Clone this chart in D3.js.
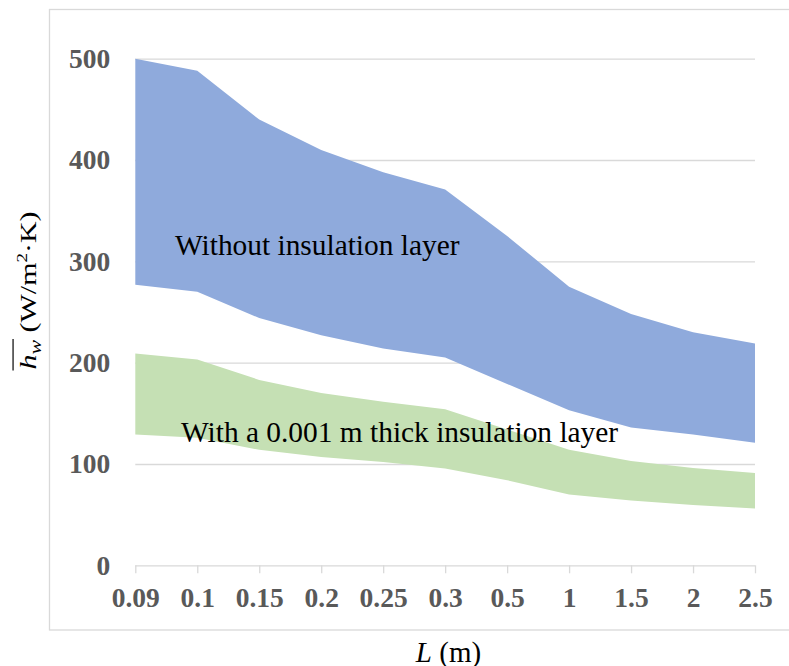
<!DOCTYPE html>
<html><head><meta charset="utf-8">
<script src="https://cdn.jsdelivr.net/npm/d3@7"></script>
<style>body{margin:0;background:#fff}svg{display:block}</style>
</head><body>
<svg id="c" width="789" height="666"></svg>
<script>
const categories = ["0.09","0.1","0.15","0.2","0.25","0.3","0.5","1","1.5","2","2.5"];
const blueUpper = [500, 488, 440, 410, 388, 371, 325, 275, 248, 230, 219];
const blueLower = [277, 270, 244, 227, 214, 205, 179, 153, 136, 129, 121];
const greenUpper = [209, 203, 183, 170, 161.5, 154, 134, 114, 103, 96, 91];
const greenLower = [129, 126, 114, 107, 102, 95.5, 84, 70, 64, 59.5, 56];
const yTicks = [0, 100, 200, 300, 400, 500];

const serif = "'Liberation Serif','Times New Roman',serif";
const svg = d3.select("#c");
const x = d3.scalePoint().domain(categories).range([135.3, 755]);
const y = d3.scaleLinear().domain([0, 500]).range([565.3, 58.7]);

// outer frame
svg.append("rect").attr("x", 49.5).attr("y", 9.5).attr("width", 760).attr("height", 620.5)
  .attr("fill", "none").attr("stroke", "#D9D9D9").attr("stroke-width", 1.3);

// gridlines
const gy = d3.axisLeft(y).tickValues(yTicks.filter(d => d > 0)).tickSize(-(755 - 135.3)).tickFormat("");
const gridG = svg.append("g").attr("transform", "translate(135.3,0)").call(gy);
gridG.select(".domain").remove();
gridG.selectAll("line").attr("stroke", "#D9D9D9").attr("stroke-width", 1.3);

function band(up, lo, color) {
  const data = categories.map((c, i) => ({c, u: up[i], l: lo[i]}));
  svg.append("path").datum(data)
    .attr("d", d3.area().x(d => x(d.c)).y0(d => y(d.l)).y1(d => y(d.u)))
    .attr("fill", color);
}
band(blueUpper, blueLower, "#8FAADC");
band(greenUpper, greenLower, "#C5E0B4");

// x axis
const xa = d3.axisBottom(x).tickSize(8).tickPadding(14);
const xg = svg.append("g").attr("transform", `translate(0,${y(0)})`).call(xa);
xg.select(".domain").attr("stroke", "#D9D9D9").attr("stroke-width", 1.3).attr("d", `M135.3,0.5H755`);
xg.selectAll(".tick line").attr("stroke", "#D9D9D9").attr("stroke-width", 1.3);
xg.selectAll(".tick text").attr("fill", "#595959").attr("font-family", serif)
  .attr("font-size", 27.5).attr("font-weight", "bold");

// y axis labels
const ya = d3.axisLeft(y).tickValues(yTicks).tickSize(0).tickPadding(25);
const yg = svg.append("g").attr("transform", "translate(135.3,0)").call(ya);
yg.select(".domain").remove();
yg.selectAll(".tick text").attr("fill", "#595959").attr("font-family", serif)
  .attr("font-size", 27.5).attr("font-weight", "bold");

// annotations
svg.append("text").attr("x", 175).attr("y", 255).attr("font-family", serif).attr("font-size", 29.4)
  .attr("fill", "#000").text("Without insulation layer");
svg.append("text").attr("x", 181).attr("y", 441.5).attr("font-family", serif).attr("font-size", 29.4)
  .attr("fill", "#000").text("With a 0.001 m thick insulation layer");

// y title
const ytf = "translate(36,290.5) rotate(-90) scale(1,0.74)";
const yt = svg.append("text").attr("transform", ytf).attr("text-anchor", "middle")
  .attr("font-family", serif).attr("font-size", 30).attr("fill", "#000");
yt.append("tspan").attr("font-style", "italic").text("h");
yt.append("tspan").attr("font-style", "italic").attr("font-size", 22).attr("dy", 7).text("w");
yt.append("tspan").attr("dy", -7).text(" (W/m");
yt.append("tspan").attr("font-size", 19).attr("dy", -12).text("2");
yt.append("tspan").attr("dy", 12).text("·K)");
{
  const tn = yt.node();
  const s = tn.getStartPositionOfChar(0), e = tn.getEndPositionOfChar(1);
  svg.append("line").attr("transform", ytf)
    .attr("x1", s.x - 1).attr("x2", e.x + 1).attr("y1", -31).attr("y2", -31)
    .attr("stroke", "#000").attr("stroke-width", 1.6);
}

// x title
const xt = svg.append("text").attr("x", 448.5).attr("y", 661.5).attr("text-anchor", "middle")
  .attr("font-family", serif).attr("font-size", 29).attr("fill", "#000");
xt.append("tspan").attr("font-style", "italic").text("L");
xt.append("tspan").text(" (m)");
</script>
</body></html>
